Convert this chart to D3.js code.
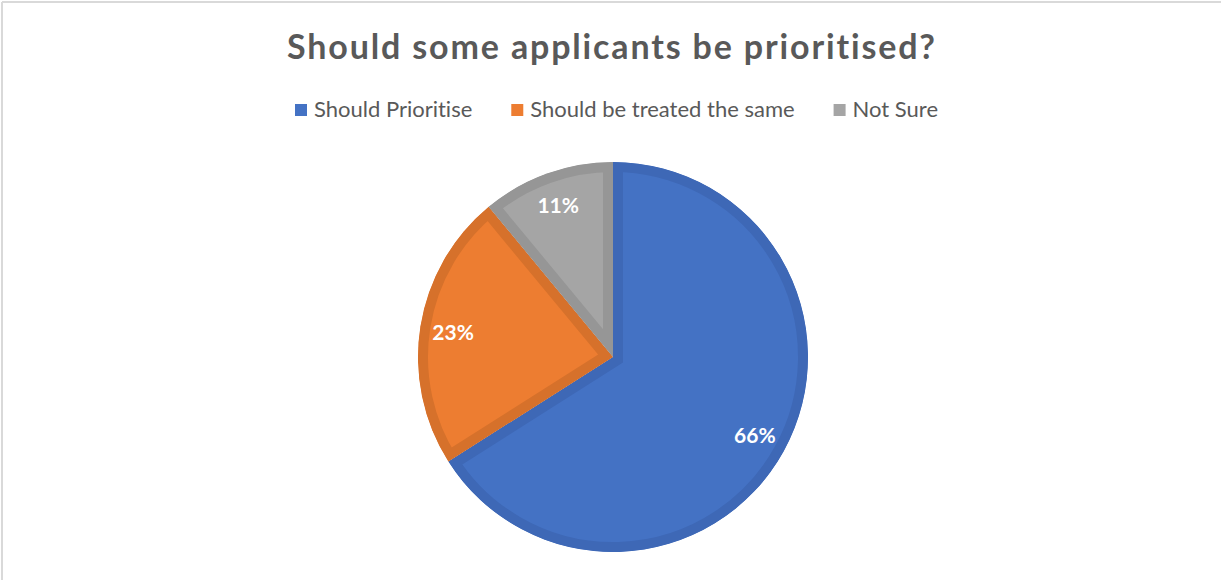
<!DOCTYPE html>
<html lang="en">
<head>
    <meta charset="UTF-8">
    <title>Should some applicants be prioritised?</title>
    <script src="https://d3js.org/d3.v7.min.js"></script>
    <style>
        body { margin: 0; background: #fff; }
        svg { display: block; font-family: Lato, "Open Sans", sans-serif; font-variant-ligatures: none; }
        .title { fill: #595959; font-size: 34px; font-weight: bold; text-anchor: middle; }
        .legend text { fill: #595959; font-size: 22px; }
        .label { fill: #fff; font-size: 21px; font-weight: bold; text-anchor: middle; dominant-baseline: central; }
    </style>
</head>
<body>
<script>
    const categories = ["Should Prioritise", "Should be treated the same", "Not Sure"];
    const values = [66, 23, 11];
    const labels = ["66%", "23%", "11%"];

    const width = 1221, height = 580;
    const cx = 613, cy = 357, radius = 195;

    const fills = d3.scaleOrdinal().domain(categories).range(["#4472C4", "#ED7D31", "#A5A5A5"]);
    const edges = d3.scaleOrdinal().domain(categories).range(["#3E68B6", "#D6712B", "#969696"]);

    const svg = d3.select("body").append("svg")
            .attr("width", width).attr("height", height);

    // chart area border (only top/left visible)
    svg.append("line").attr("x1", 2).attr("x2", width).attr("y1", 2).attr("y2", 2)
            .attr("stroke", "#d9d9d9").attr("stroke-width", 2);
    svg.append("line").attr("x1", 2).attr("x2", 2).attr("y1", 2).attr("y2", height)
            .attr("stroke", "#d9d9d9").attr("stroke-width", 2);

    svg.append("text").attr("class", "title")
            .attr("x", 611).attr("y", 59)
            .attr("textLength", 648).attr("lengthAdjust", "spacing")
            .text("Should some applicants be prioritised?");

    // legend, laid out from measured text widths and centred
    const legend = svg.append("g").attr("class", "legend");
    const items = legend.selectAll("g").data(categories).join("g");
    items.append("rect").attr("width", 12).attr("height", 12).attr("y", -13)
            .attr("fill", d => fills(d));
    items.append("text").attr("x", 19).attr("y", 0).text(d => d);
    let x = 0;
    items.each(function () {
        const w = d3.select(this).select("text").node().getComputedTextLength();
        d3.select(this).attr("transform", `translate(${x},117)`);
        x += 19 + w + 39;
    });
    const legendW = x - 39;
    legend.attr("transform", `translate(${616.5 - legendW / 2},0)`);

    const pie = d3.pie().sort(null).value(d => d.value);
    const arcs = pie(categories.map((c, i) => ({ name: c, value: values[i], label: labels[i] })));
    const arc = d3.arc().innerRadius(0).outerRadius(radius);
    const labelArc = d3.arc().innerRadius(radius * 0.83).outerRadius(radius * 0.83);

    const g = svg.append("g").attr("transform", `translate(${cx},${cy})`);
    const defs = svg.append("defs");
    defs.selectAll("clipPath").data(arcs).join("clipPath")
            .attr("id", (d, i) => "clip" + i)
            .append("path").attr("d", arc);

    g.selectAll("path.slice").data(arcs).join("path")
            .attr("class", "slice")
            .attr("d", arc)
            .attr("fill", d => fills(d.data.name))
            .attr("stroke", d => edges(d.data.name))
            .attr("stroke-width", 20)
            .attr("clip-path", (d, i) => `url(#clip${i})`);

    g.selectAll("text.label").data(arcs).join("text")
            .attr("class", "label")
            .attr("transform", d => `translate(${labelArc.centroid(d)})`)
            .text(d => d.data.label);
</script>
</body>
</html>
